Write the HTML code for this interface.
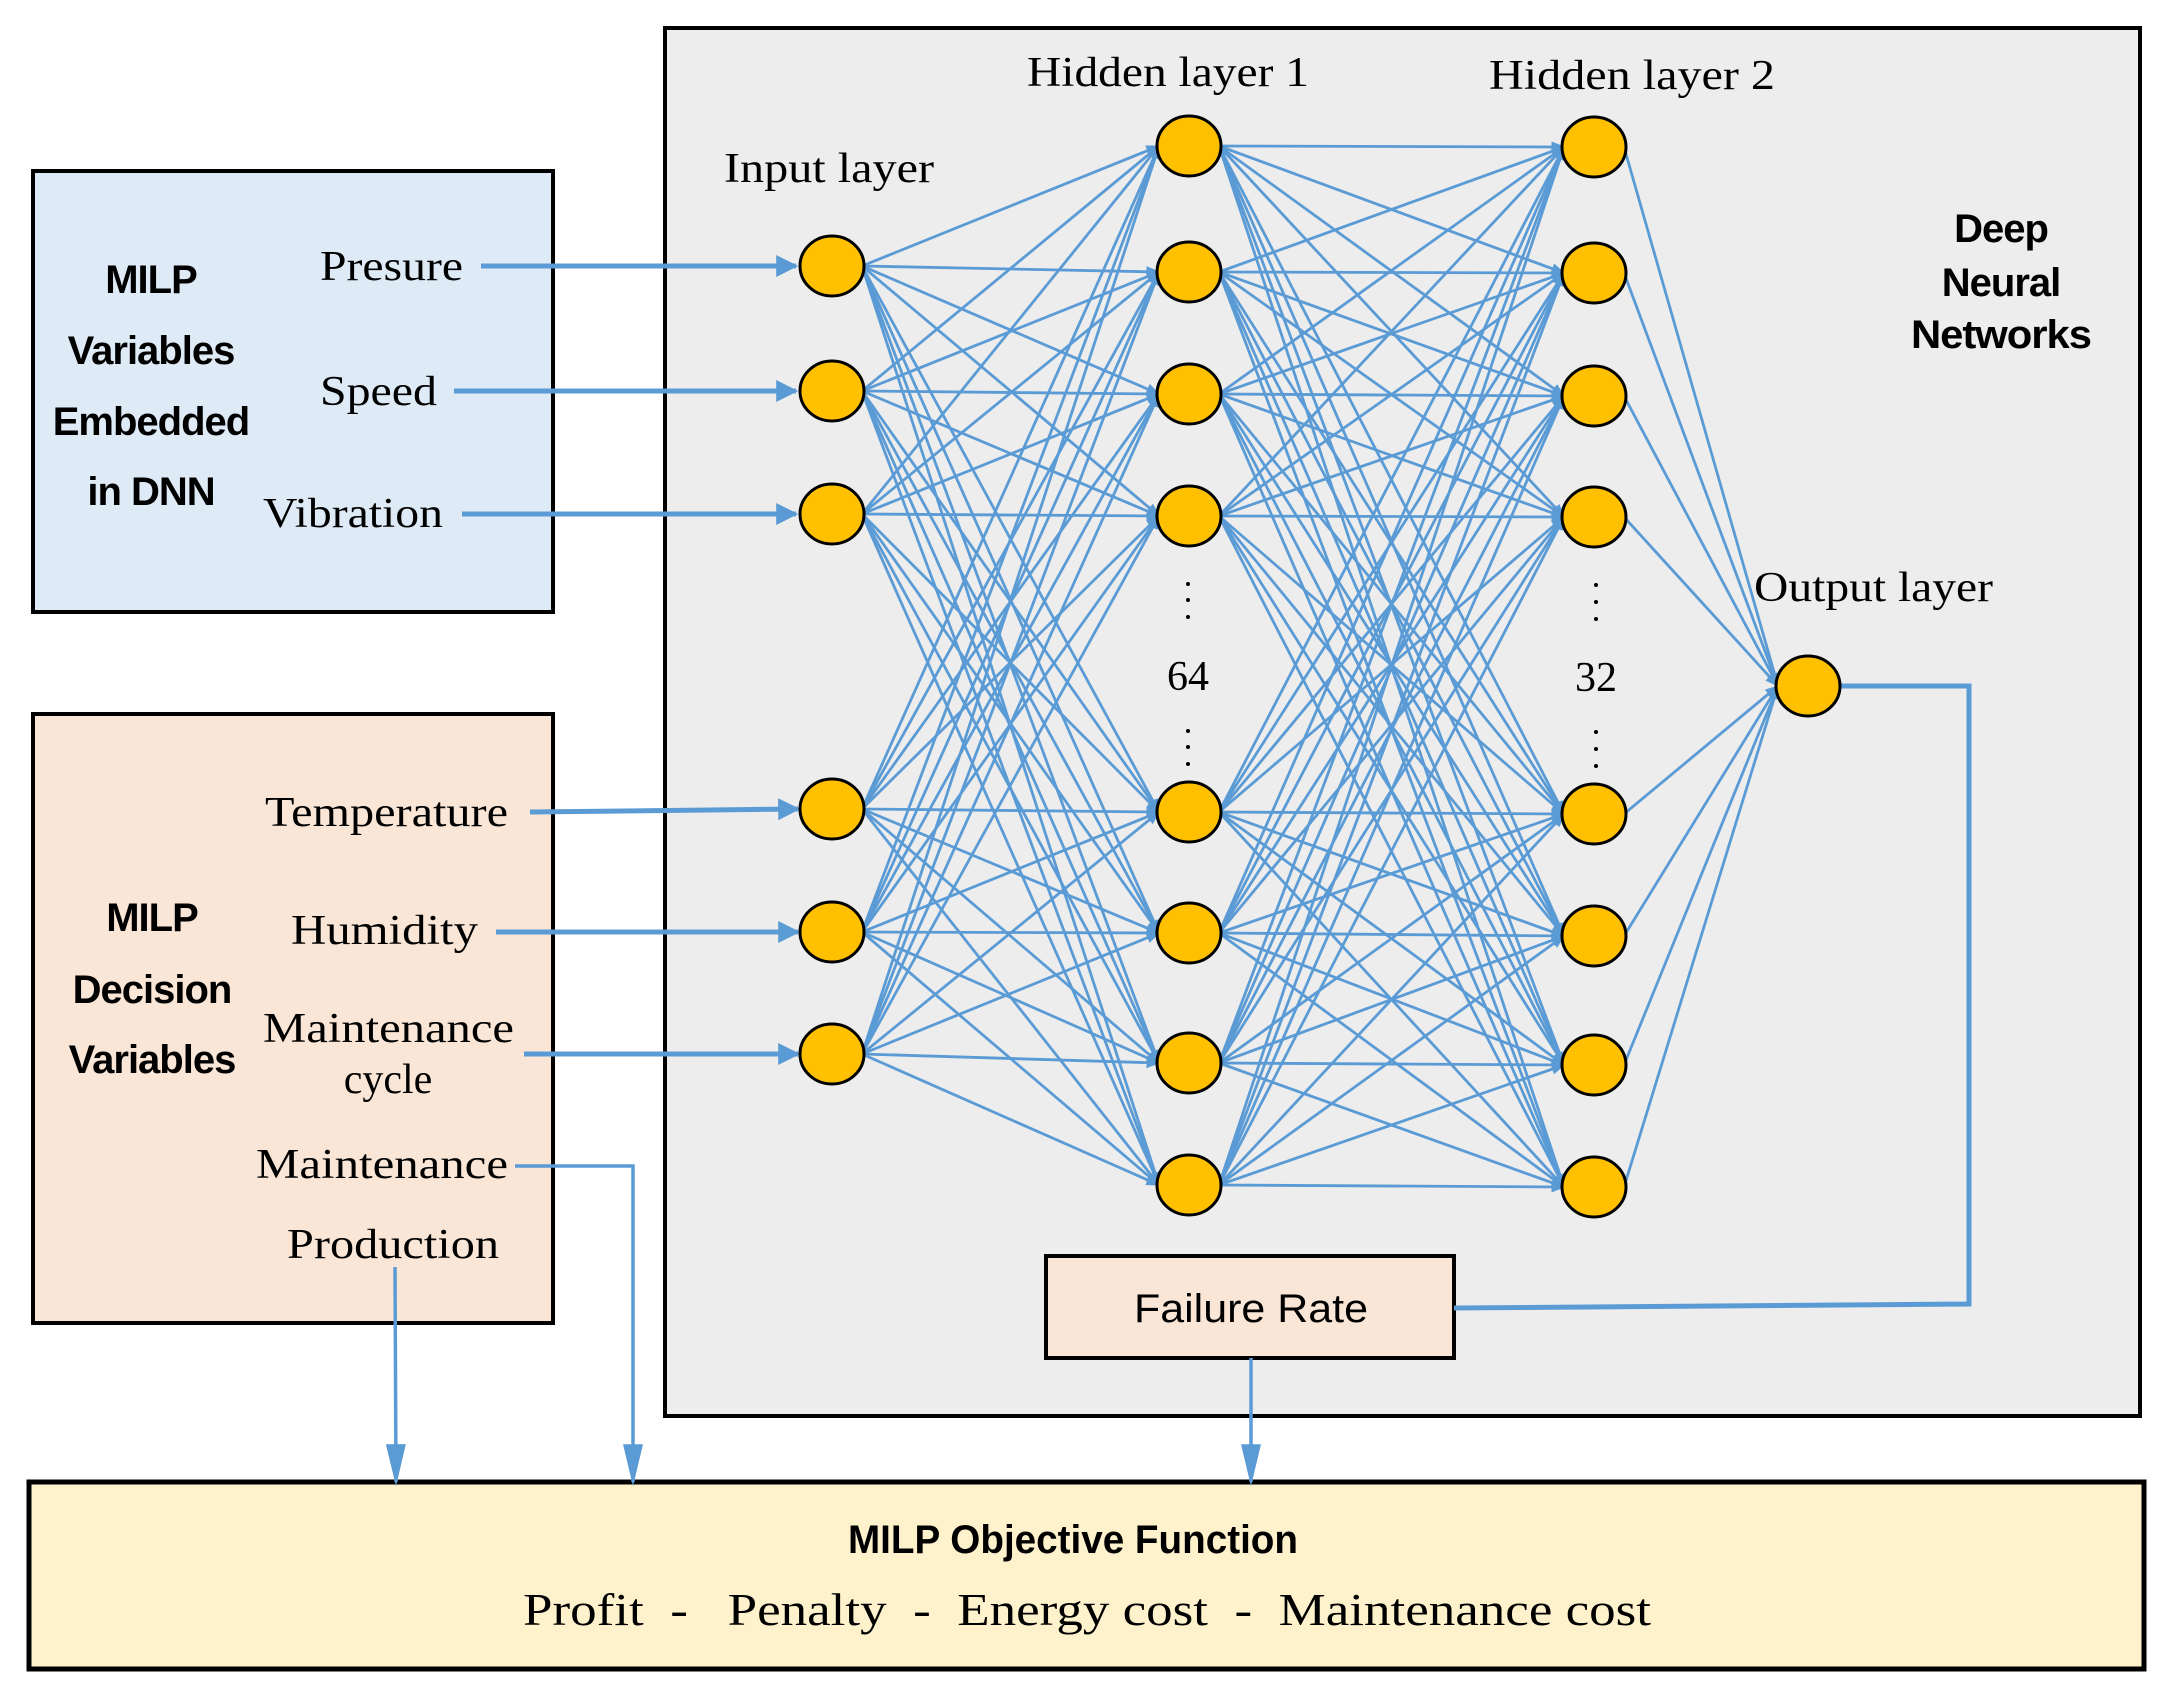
<!DOCTYPE html>
<html><head><meta charset="utf-8"><style>
html,body{margin:0;padding:0;background:#fff;}
svg{display:block;}
.serif{font-family:"Liberation Serif",serif;fill:#000;}
.sans{font-family:"Liberation Sans",sans-serif;fill:#000;}
</style></head><body>
<svg id="s" width="2172" height="1703" viewBox="0 0 2172 1703" xmlns="http://www.w3.org/2000/svg">
<defs>
<marker id="ahs" viewBox="0 0 10 10" refX="9" refY="5" markerWidth="14" markerHeight="14" orient="auto" markerUnits="userSpaceOnUse">
<path d="M0,1 L10,5 L0,9 z" fill="#5b9bd5"/></marker>
<marker id="ahb" viewBox="0 0 10 10" refX="9" refY="5" markerWidth="36" markerHeight="22" orient="auto" markerUnits="userSpaceOnUse">
<path d="M0,0 L10,5 L0,10 z" fill="#5b9bd5"/></marker>
<marker id="ahd" viewBox="0 0 10 10" refX="9" refY="5" markerWidth="42" markerHeight="20" orient="auto" markerUnits="userSpaceOnUse" preserveAspectRatio="none">
<path d="M0,0 L10,5 L0,10 z" fill="#5b9bd5"/></marker>
</defs>

<rect x="665" y="28" width="1475" height="1388" fill="#ededed" stroke="#000" stroke-width="4"/>
<rect x="33" y="171" width="520" height="441" fill="#deeaf6" stroke="#000" stroke-width="4"/>
<rect x="33" y="714" width="520" height="609" fill="#fae6d6" stroke="#000" stroke-width="4"/>
<rect x="29" y="1482" width="2115" height="187" fill="#fef2cd" stroke="#000" stroke-width="5"/>
<rect x="1046" y="1256" width="408" height="102" fill="#fae6d6" stroke="#000" stroke-width="4"/>

<g id="edges" stroke="#5b9bd5" stroke-width="2.8" fill="none"></g>

<g stroke="#5b9bd5" stroke-width="5" fill="none">
<line x1="481" y1="266" x2="796" y2="266" marker-end="url(#ahb)"/>
<line x1="454" y1="391" x2="796" y2="391" marker-end="url(#ahb)"/>
<line x1="462" y1="514" x2="796" y2="514" marker-end="url(#ahb)"/>
<line x1="530" y1="812" x2="798" y2="809" marker-end="url(#ahb)"/>
<line x1="496" y1="932" x2="798" y2="932" marker-end="url(#ahb)"/>
<line x1="524" y1="1054" x2="798" y2="1054" marker-end="url(#ahb)"/>
<polyline points="1840,686 1969,686 1969,1304 1454,1308"/>
</g>
<g stroke="#5b9bd5" stroke-width="3.5" fill="none">
<polyline points="515,1166 633,1166 633,1482" marker-end="url(#ahd)"/>
<line x1="395" y1="1267" x2="396" y2="1482" marker-end="url(#ahd)"/>
<line x1="1251" y1="1358" x2="1251" y2="1482" marker-end="url(#ahd)"/>
</g>

<g id="nodes" fill="#ffc000" stroke="#000" stroke-width="3"></g>

<g fill="#000">
<circle cx="1188" cy="584" r="2"/><circle cx="1188" cy="600" r="2"/><circle cx="1188" cy="617" r="2"/>
<circle cx="1188" cy="731" r="2"/><circle cx="1188" cy="747" r="2"/><circle cx="1188" cy="764" r="2"/>
<circle cx="1596" cy="585" r="2"/><circle cx="1596" cy="602" r="2"/><circle cx="1596" cy="619" r="2"/>
<circle cx="1596" cy="732" r="2"/><circle cx="1596" cy="749" r="2"/><circle cx="1596" cy="766" r="2"/>
</g>

<g class="serif" font-size="42">
<text x="724" y="182" textLength="210" lengthAdjust="spacingAndGlyphs">Input layer</text>
<text x="1027" y="86" textLength="282" lengthAdjust="spacingAndGlyphs">Hidden layer 1</text>
<text x="1489" y="89" textLength="286" lengthAdjust="spacingAndGlyphs">Hidden layer 2</text>
<text x="1754" y="601" textLength="239" lengthAdjust="spacingAndGlyphs">Output layer</text>
<text x="1188" y="690" text-anchor="middle">64</text>
<text x="1596" y="691" text-anchor="middle">32</text>
<text x="320" y="280" textLength="143" lengthAdjust="spacingAndGlyphs">Presure</text>
<text x="320" y="405" textLength="117" lengthAdjust="spacingAndGlyphs">Speed</text>
<text x="263" y="527" textLength="180" lengthAdjust="spacingAndGlyphs">Vibration</text>
<text x="265" y="826" textLength="243" lengthAdjust="spacingAndGlyphs">Temperature</text>
<text x="291" y="944" textLength="187" lengthAdjust="spacingAndGlyphs">Humidity</text>
<text x="263" y="1042" textLength="251" lengthAdjust="spacingAndGlyphs">Maintenance</text>
<text x="388" y="1093" text-anchor="middle">cycle</text>
<text x="256" y="1178" textLength="252" lengthAdjust="spacingAndGlyphs">Maintenance</text>
<text x="287" y="1258" textLength="212" lengthAdjust="spacingAndGlyphs">Production</text>
<text x="523" y="1625" font-size="46" textLength="1128" lengthAdjust="spacingAndGlyphs" xml:space="preserve">Profit  -   Penalty  -  Energy cost  -  Maintenance cost</text>
</g>

<g class="sans" font-size="40" text-anchor="middle" font-weight="bold" letter-spacing="-1">
<text x="151" y="293">MILP</text>
<text x="151" y="364">Variables</text>
<text x="151" y="435">Embedded</text>
<text x="151" y="505">in DNN</text>
<text x="152" y="931">MILP</text>
<text x="152" y="1003">Decision</text>
<text x="152" y="1073">Variables</text>
</g>
<g class="sans" font-size="40" text-anchor="middle" font-weight="bold" letter-spacing="-1">
<text x="2001" y="242">Deep</text>
<text x="2001" y="296">Neural</text>
<text x="2001" y="348" textLength="180" lengthAdjust="spacingAndGlyphs">Networks</text>
</g>
<text class="sans" x="1251" y="1322" font-size="40" text-anchor="middle" textLength="234" lengthAdjust="spacingAndGlyphs">Failure Rate</text>
<text class="sans" x="1073" y="1553" font-size="40" font-weight="bold" text-anchor="middle" textLength="450" lengthAdjust="spacingAndGlyphs">MILP Objective Function</text>
</svg>
<script>
var NS="http://www.w3.org/2000/svg";
var L0={x:832,y:[266,391,514,809,932,1054]};
var L1={x:1189,y:[146,272,394,516,812,933,1063,1185]};
var L2={x:1594,y:[147,273,396,517,814,936,1065,1187]};
var L3={x:1808,y:[686]};
var rx=32,ry=30;
var eg=document.getElementById('edges'),ng=document.getElementById('nodes');
function conn(a,b,mk){a.y.forEach(function(y1){b.y.forEach(function(y2){
var l=document.createElementNS(NS,'line');
l.setAttribute('x1',a.x+rx-2);l.setAttribute('y1',y1);
l.setAttribute('x2',b.x-rx+2);l.setAttribute('y2',y2);
l.setAttribute('marker-end','url(#'+mk+')');eg.appendChild(l);});});}
conn(L0,L1,'ahs');conn(L1,L2,'ahs');conn(L2,L3,'ahs');
[L0,L1,L2,L3].forEach(function(L){L.y.forEach(function(y){
var e=document.createElementNS(NS,'ellipse');
e.setAttribute('cx',L.x);e.setAttribute('cy',y);e.setAttribute('rx',rx);e.setAttribute('ry',ry);
ng.appendChild(e);});});
</script>
</body></html>
